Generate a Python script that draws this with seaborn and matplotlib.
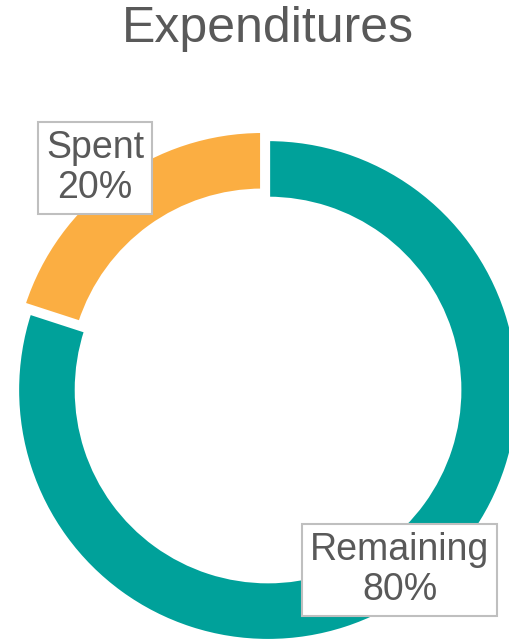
#--Expenditures donut chart--#
import seaborn as sns
import matplotlib.pyplot as plt

#--Data--#
labels = ['Remaining', 'Spent']
shares = [80, 20]
colors = ['#00A19A', '#FBAE42']
explode = [0, 0.04]

#--Style--#
sns.set_theme(style='white')
plt.rcParams['font.family'] = ['Liberation Sans', 'DejaVu Sans']
text_color = '#595959'

fig = plt.figure(figsize=(5.10, 6.41), dpi=100)
ax = fig.add_axes([0, 0, 1, 1])

wedges, _ = ax.pie(shares, colors=colors, startangle=90, counterclock=False,
                   explode=explode, radius=1.0,
                   wedgeprops=dict(width=0.238, edgecolor='white', linewidth=3))

ax.set_aspect('auto')
ax.set_xlim(-1.068, 0.964)
ax.set_ylim(-1.0, 1.554)
ax.axis('off')

#--Boxed labels--#
label_pos = {'Remaining': (0.524, -0.717), 'Spent': (-0.689, 0.884)}
for lab, val in zip(labels, shares):
    x, y = label_pos[lab]
    ax.text(x, y, f'{lab}\n{val}%', ha='center', va='center', fontsize=27,
            color=text_color, linespacing=1.12,
            bbox=dict(boxstyle='square,pad=0.22', facecolor='white',
                      edgecolor='#BFBFBF', linewidth=1.5))

fig.text(0.525, 0.955, 'Expenditures', ha='center', va='center',
         fontsize=36, color=text_color)

fig.savefig('out.png', dpi=100)
